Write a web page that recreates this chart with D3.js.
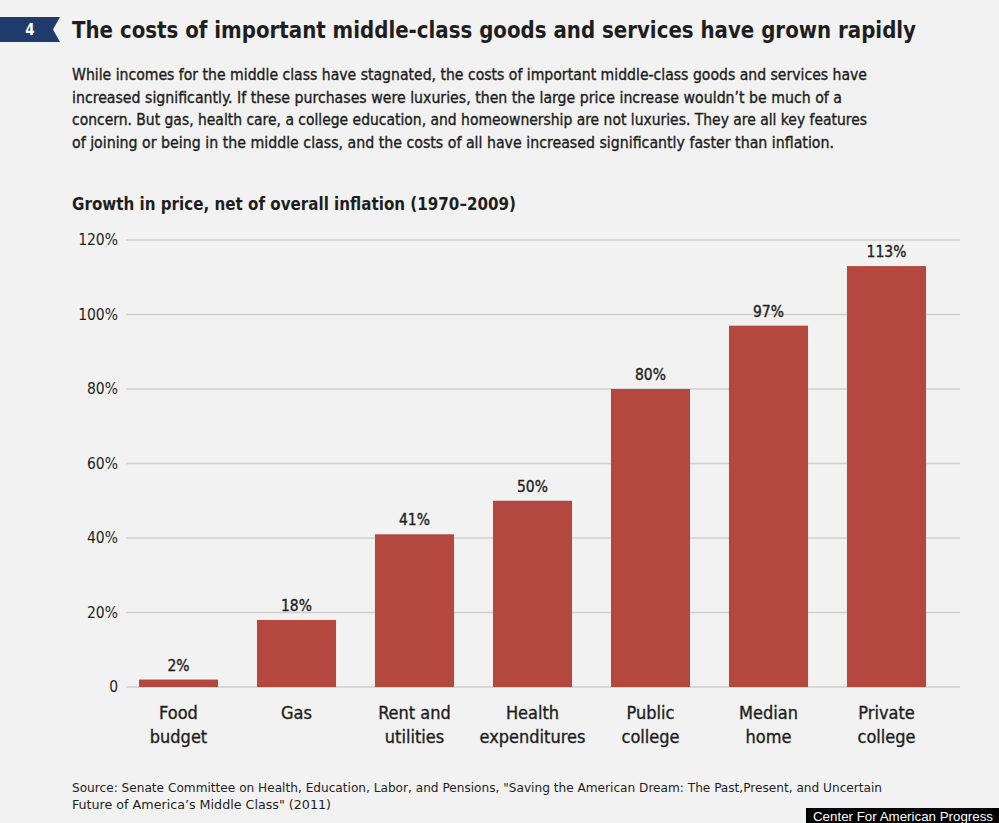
<!DOCTYPE html>
<html><head><meta charset="utf-8">
<script src="https://cdn.jsdelivr.net/npm/d3@7"></script>
<style>
html,body{margin:0;padding:0;background:#f2f2f2;}
svg{display:block;}
.t{font-family:"Liberation Sans Narrow","DejaVu Sans Condensed","Noto Sans",sans-serif;fill:#1e1e1e;}
.s{stroke:#1e1e1e;stroke-width:0.35px;}
</style></head>
<body>
<script>
const categories = [["Food","budget"],["Gas"],["Rent and","utilities"],["Health","expenditures"],["Public","college"],["Median","home"],["Private","college"]];
const values = [2, 18, 41, 50, 80, 97, 113];
const valueLabels = ["2%","18%","41%","50%","80%","97%","113%"];
const yTicks = [0, 20, 40, 60, 80, 100, 120];
const yTickLabels = ["0","20%","40%","60%","80%","100%","120%"];
const subtitleLines = [
 "While incomes for the middle class have stagnated, the costs of important middle-class goods and services have",
 "increased significantly. If these purchases were luxuries, then the large price increase wouldn\u2019t be much of a",
 "concern. But gas, health care, a college education, and homeownership are not luxuries. They are all key features",
 "of joining or being in the middle class, and the costs of all have increased significantly faster than inflation."
];
const subtitleWidths = [795, 770, 795, 762];
const sourceLines = [
 "Source: Senate Committee on Health, Education, Labor, and Pensions, \"Saving the American Dream: The Past,Present, and Uncertain",
 "Future of America\u2019s Middle Class\" (2011)"
];
const sourceWidths = [810, 259];

const W = 999, H = 823;
const svg = d3.select("body").append("svg").attr("width", W).attr("height", H);
svg.append("rect").attr("width", W).attr("height", H).attr("fill", "#f2f2f2");

// badge
svg.append("polygon").attr("points", "0,17 60,17 53,29.5 60,42 0,42").attr("fill", "#1f3b6b");
svg.append("text").attr("class","t").attr("x", 30).attr("y", 35).attr("text-anchor","middle")
  .attr("font-size", 15).attr("font-weight","bold").style("fill","#fff").text("4");

svg.append("text").attr("class","t").attr("x", 72).attr("y", 38).attr("font-size", 23).attr("font-weight","bold")
  .attr("textLength", 844).attr("lengthAdjust","spacingAndGlyphs")
  .text("The costs of important middle-class goods and services have grown rapidly");

subtitleLines.forEach((s,i)=>{
  svg.append("text").attr("class","t s").attr("x", 72).attr("y", 80 + i*22.5).attr("font-size", 15.5)
    .attr("textLength", subtitleWidths[i]).attr("lengthAdjust","spacingAndGlyphs").text(s);
});

svg.append("text").attr("class","t").attr("x", 72).attr("y", 210).attr("font-size", 17).attr("font-weight","bold")
  .attr("textLength", 444).attr("lengthAdjust","spacingAndGlyphs")
  .text("Growth in price, net of overall inflation (1970\u20132009)");

const y = d3.scaleLinear().domain([0, 120]).range([687, 240]);
const x = d3.scaleBand().domain(d3.range(categories.length)).range([119.5, 945.5]).paddingInner(0.33).paddingOuter(0.165);

// gridlines
svg.append("g").selectAll("line").data(yTicks).join("line")
  .attr("x1", 126).attr("x2", 960).attr("y1", d=>y(d)).attr("y2", d=>y(d))
  .attr("stroke", "#cfcfcf").attr("stroke-width", 1.5);

svg.append("g").selectAll("text").data(yTicks).join("text").attr("class","t")
  .attr("x", 118).attr("y", d=>y(d)+5).attr("text-anchor","end").attr("font-size", 15.5)
  .text((d,i)=>yTickLabels[i]);

// bars
svg.append("g").selectAll("rect").data(values).join("rect")
  .attr("x", (d,i)=>x(i)).attr("width", x.bandwidth())
  .attr("y", d=>y(d)).attr("height", d=>y(0)-y(d))
  .attr("fill", "#b4483e");

svg.append("g").selectAll("text").data(values).join("text").attr("class","t s")
  .attr("x", (d,i)=>x(i)+x.bandwidth()/2).attr("y", d=>y(d)-9).attr("text-anchor","middle")
  .attr("font-size", 15.5).text((d,i)=>valueLabels[i]);

// category labels
const cg = svg.append("g").selectAll("text").data(categories).join("text").attr("class","t s")
  .attr("text-anchor","middle").attr("font-size", 18);
cg.each(function(lines,i){
  const t = d3.select(this);
  lines.forEach((l,j)=>{
    t.append("tspan").attr("x", x(i)+x.bandwidth()/2).attr("y", 719 + j*24).text(l);
  });
});

sourceLines.forEach((s,i)=>{
  svg.append("text").attr("class","t").attr("x", 72).attr("y", 792 + i*17).attr("font-size", 12.5)
    .attr("textLength", sourceWidths[i]).attr("lengthAdjust","spacingAndGlyphs").text(s);
});

svg.append("rect").attr("x", 806).attr("y", 808).attr("width", 193).attr("height", 15).attr("fill", "#000");
svg.append("text").attr("x", 813).attr("y", 820.5).attr("font-family","Liberation Sans, Arial, sans-serif")
  .attr("font-size", 13.5).attr("fill","#fff").attr("textLength", 180).attr("lengthAdjust","spacingAndGlyphs")
  .text("Center For American Progress");
</script>
</body></html>
